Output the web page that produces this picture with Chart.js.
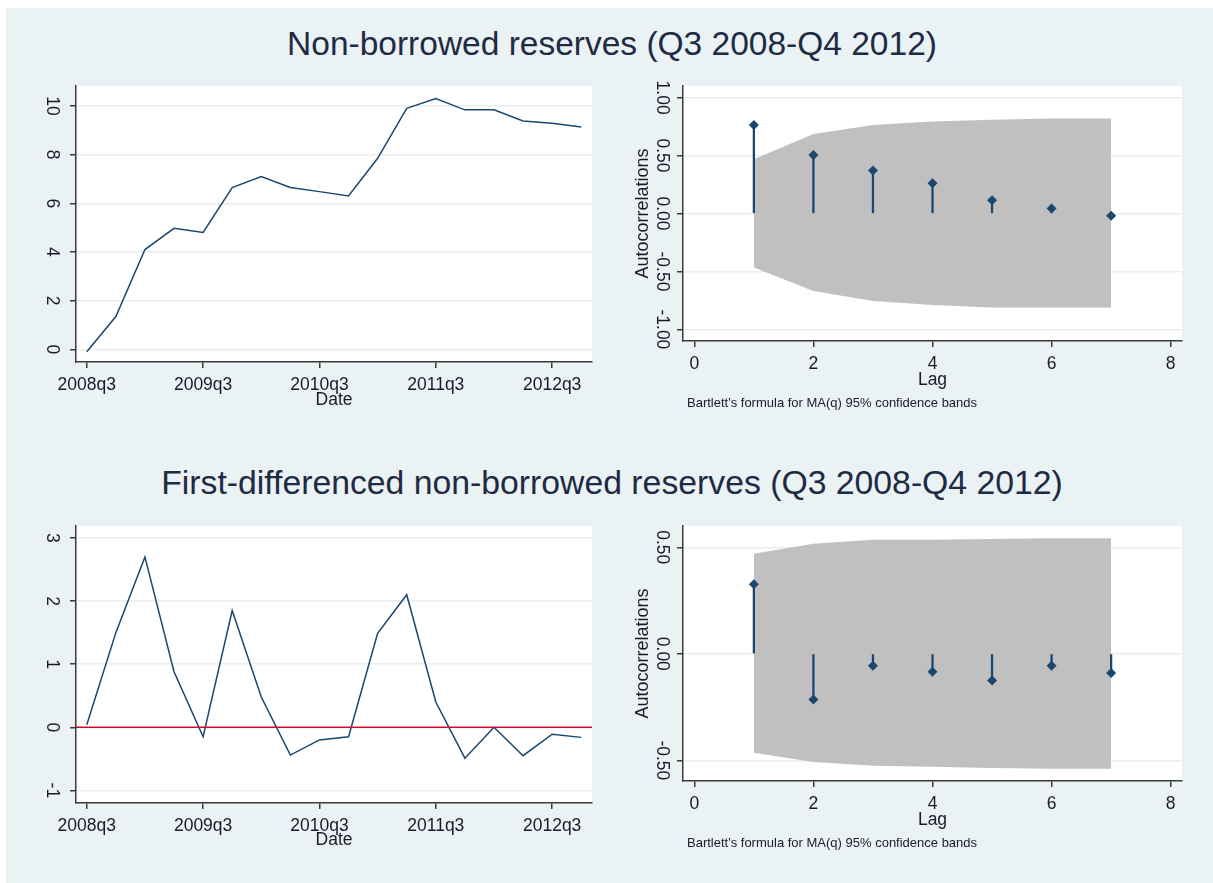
<!DOCTYPE html>
<html>
<head>
<meta charset="utf-8">
<script src="https://cdn.jsdelivr.net/npm/chart.js@4.4.1/dist/chart.umd.min.js"></script>
<style>
  html, body { margin: 0; padding: 0; background: #ffffff; }
  body { width: 1213px; height: 883px; position: relative; overflow: hidden; font-family: "Liberation Sans", Arial, sans-serif; }
  #panel { position: absolute; left: 6px; top: 8px; right: 0; bottom: 0; background: #eaf2f3; }
  .title { position: absolute; white-space: nowrap; transform: translateX(-50%); line-height: 40px; color: #1f2a44; }
  .note { position: absolute; white-space: nowrap; font-size: 13px; line-height: 16px; color: #1a1a2e; }
  .box { position: absolute; }
</style>
</head>
<body>
<div id="panel"></div>
<div class="title" style="left:612px; top:24px; font-size:33.5px;">Non-borrowed reserves (Q3 2008-Q4 2012)</div>
<div class="title" style="left:612px; top:462px; font-size:33.75px;">First-differenced non-borrowed reserves (Q3 2008-Q4 2012)</div>

<div class="box" style="left:6px; top:60px;"><canvas id="c1" width="600" height="360"></canvas></div>
<div class="box" style="left:606px; top:60px;"><canvas id="c2" width="600" height="360"></canvas></div>
<div class="box" style="left:6px; top:500px;"><canvas id="c3" width="600" height="360"></canvas></div>
<div class="box" style="left:606px; top:500px;"><canvas id="c4" width="600" height="360"></canvas></div>

<div class="note" style="left:687px; top:395px;">Bartlett's formula for MA(q) 95% confidence bands</div>
<div class="note" style="left:687px; top:835px;">Bartlett's formula for MA(q) 95% confidence bands</div>

<script>
// ---------------- DATA ----------------
const quarters = ["2008q3","2008q4","2009q1","2009q2","2009q3","2009q4","2010q1","2010q2","2010q3",
                  "2010q4","2011q1","2011q2","2011q3","2011q4","2012q1","2012q2","2012q3","2012q4"];
const reserves = [-0.1, 1.35, 4.1, 4.97, 4.8, 6.65, 7.1, 6.65, 6.48, 6.3, 7.85, 9.9, 10.3, 9.84, 9.84, 9.38, 9.29, 9.14];
const diffReserves = [0.04, 1.5, 2.7, 0.88, -0.15, 1.85, 0.48, -0.44, -0.2, -0.15, 1.49, 2.1, 0.4, -0.49, 0.0, -0.45, -0.11, -0.16];
const dateTickLabels = ["2008q3","2009q3","2010q3","2011q3","2012q3"];
const reservesYTicks = [0, 2, 4, 6, 8, 10];
const diffYTicks = [-1, 0, 1, 2, 3];
const zeroLineValue = 0;

const lags = [1, 2, 3, 4, 5, 6, 7];
const lagTicks = [0, 2, 4, 6, 8];
const acfLevel = [0.763, 0.504, 0.371, 0.262, 0.115, 0.043, -0.02];
const bandLevelUpper = [0.469, 0.685, 0.763, 0.794, 0.809, 0.82, 0.82];
const bandLevelLower = [-0.466, -0.668, -0.754, -0.79, -0.81, -0.81, -0.81];
const acfLevelYTicks = [-1, -0.5, 0, 0.5, 1];

const acfDiff = [0.327, -0.215, -0.056, -0.084, -0.125, -0.056, -0.09];
const bandDiffUpper = [0.47, 0.517, 0.536, 0.536, 0.539, 0.542, 0.542];
const bandDiffLower = [-0.464, -0.508, -0.526, -0.53, -0.536, -0.539, -0.539];
const acfDiffYTicks = [-0.5, 0, 0.5];

// ---------------- STYLE ----------------
const NAVY = "#1a476f";
const RED = "#c8102e";
const BAND = "#c0c0c0";
const AXIS = "#3a3a3a";
const GRID = "#e8eff1";
const TEXT = "#1a1a2e";
const FONT = { family: "'Liberation Sans', Arial, sans-serif", size: 17.5 };
const TITLEFONT = { family: "'Liberation Sans', Arial, sans-serif", size: 17.5 };
const YTITLEFONT = { family: "'Liberation Sans', Arial, sans-serif", size: 18 };

const whitePlot = {
  id: "whitePlot",
  beforeDraw(chart) {
    const a = chart.chartArea, ctx = chart.ctx;
    ctx.save(); ctx.fillStyle = "#ffffff";
    ctx.fillRect(a.left, a.top, a.right - a.left, a.bottom - a.top);
    ctx.restore();
  }
};

function qIndex(lbl) { return quarters.indexOf(lbl); }

function makeOptions(o) {
  return {
    responsive: false,
    animation: false,
    layout: { padding: { top: o.padTop, right: o.padRight, left: 0, bottom: 0 } },
    plugins: { legend: { display: false }, tooltip: { enabled: false } },
    scales: {
      x: {
        type: "linear", min: o.xMin, max: o.xMax, offset: false,
        afterBuildTicks: s => { s.ticks = o.xTicks.map(v => ({ value: v })); },
        afterFit: s => { s.height = o.xHeight; s.paddingLeft = 0; s.paddingRight = 0; s.paddingTop = 0; s.paddingBottom = 0; },
        grid: { offset: false, drawOnChartArea: false, color: AXIS, tickColor: AXIS, tickLength: 6, tickWidth: 1.5, lineWidth: 1.5 },
        border: { color: AXIS, width: 1.5 },
        ticks: { font: FONT, color: TEXT, padding: 7, maxRotation: 0, minRotation: 0, autoSkip: false, callback: o.xFmt },
        title: { display: true, text: o.xTitle, font: TITLEFONT, color: TEXT, padding: { top: 0, bottom: o.xTitlePad } }
      },
      y: {
        type: "linear", min: o.yMin, max: o.yMax,
        afterBuildTicks: s => { s.ticks = o.yTicks.map(v => ({ value: v })); },
        afterFit: s => { s.width = o.yWidth; s.paddingTop = 0; s.paddingBottom = 0; s.paddingLeft = 0; s.paddingRight = 0; },
        grid: { color: GRID, lineWidth: 1.5, tickColor: AXIS, tickLength: 6, tickWidth: 1.5 },
        border: { color: AXIS, width: 1.5 },
        ticks: { font: FONT, color: TEXT, padding: o.yTickPad, minRotation: -90, maxRotation: -90, crossAlign: "center", callback: o.yFmt },
        title: { display: !!o.yTitle, text: o.yTitle || "", font: YTITLEFONT, color: TEXT, padding: { top: o.yTitlePad || 0, bottom: 0 } }
      }
    }
  };
}

const dateFmt = v => quarters[v];
const intFmt = v => String(v);
const acfFmt = v => v.toFixed(2);

// ---- Chart 1: levels ----
new Chart(document.getElementById("c1"), {
  type: "line",
  data: {
    datasets: [{
      data: reserves.map((v, i) => ({ x: i, y: v })),
      borderColor: NAVY, borderWidth: 1.5, pointRadius: 0, tension: 0, fill: false
    }]
  },
  options: makeOptions({
    padTop: 26, padRight: 14, xHeight: 58, yWidth: 70,
    xMin: -0.37, xMax: 17.37, xTicks: dateTickLabels.map(qIndex), xFmt: dateFmt, xTitle: "Date", xTitlePad: 9.5,
    yMin: -0.52, yMax: 10.82, yTicks: reservesYTicks, yFmt: intFmt, yTickPad: 8.3
  }),
  plugins: [whitePlot]
});

// ---- Chart 3: first differences ----
new Chart(document.getElementById("c3"), {
  type: "line",
  data: {
    datasets: [
      {
        data: [{ x: -0.37, y: zeroLineValue }, { x: 17.37, y: zeroLineValue }],
        borderColor: RED, borderWidth: 1.5, pointRadius: 0, tension: 0, fill: false, order: 0
      },
      {
        data: diffReserves.map((v, i) => ({ x: i, y: v })),
        borderColor: NAVY, borderWidth: 1.5, pointRadius: 0, tension: 0, fill: false, order: 1
      }
    ]
  },
  options: makeOptions({
    padTop: 26, padRight: 14, xHeight: 57, yWidth: 70,
    xMin: -0.37, xMax: 17.37, xTicks: dateTickLabels.map(qIndex), xFmt: dateFmt, xTitle: "Date", xTitlePad: 9.5,
    yMin: -1.2, yMax: 3.19, yTicks: diffYTicks, yFmt: intFmt, yTickPad: 10.2
  }),
  plugins: [whitePlot]
});

function acfChart(id, acf, upper, lower, yOpts) {
  return new Chart(document.getElementById(id), {
    type: "scatter",
    data: {
      datasets: [
        { type: "scatter", data: acf.map((v, i) => ({ x: lags[i], y: v })), pointStyle: "rectRot",
          pointRadius: 5, backgroundColor: NAVY, borderColor: NAVY, borderWidth: 0, order: 0 },
        { type: "bar", data: acf.map((v, i) => ({ x: lags[i], y: [0, v] })), backgroundColor: NAVY,
          borderWidth: 0, barThickness: 1.6, order: 1 },
        { type: "line", data: upper.map((v, i) => ({ x: lags[i], y: v })), borderWidth: 0, borderColor: "rgba(0,0,0,0)",
          pointRadius: 0, tension: 0, fill: false, order: 3 },
        { type: "line", data: lower.map((v, i) => ({ x: lags[i], y: v })), borderWidth: 0, borderColor: "rgba(0,0,0,0)",
          backgroundColor: BAND, pointRadius: 0, tension: 0, fill: "-1", order: 2 }
      ]
    },
    options: makeOptions(Object.assign({
      padTop: 26, padRight: 24, yWidth: 77,
      xMin: -0.19, xMax: 8.19, xTicks: lagTicks, xFmt: intFmt, xTitle: "Lag", xTitlePad: 29.5,
      yFmt: acfFmt, yTickPad: -4.9, yTitle: "Autocorrelations", yTitlePad: 26.2
    }, yOpts)),
    plugins: [whitePlot]
  });
}

acfChart("c2", acfLevel, bandLevelUpper, bandLevelLower,
  { xHeight: 79, yMin: -1.1, yMax: 1.1, yTicks: acfLevelYTicks });
acfChart("c4", acfDiff, bandDiffUpper, bandDiffLower,
  { xHeight: 79, yMin: -0.597, yMax: 0.6, yTicks: acfDiffYTicks });
</script>
</body>
</html>
